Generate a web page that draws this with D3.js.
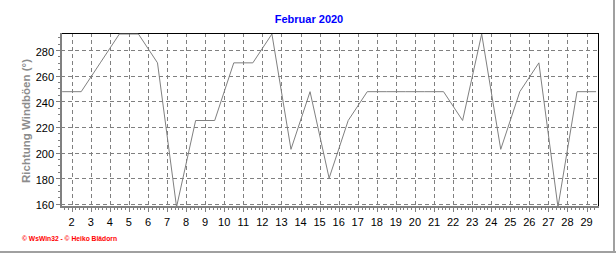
<!DOCTYPE html>
<html>
<head>
<meta charset="utf-8">
<script src="https://cdn.jsdelivr.net/npm/d3@7"></script>
<style>
  body { margin: 0; background: #fff; }
  svg { display: block; font-family: "Liberation Sans", Arial, sans-serif; }
</style>
</head>
<body>
<div id="chart"></div>
<script>
// Windrichtung der Böen, Tageswerte Februar 2020 (Punkte jeweils zur Tagesmitte)
const days = [1.5, 2.5, 3.5, 4.5, 5.5, 6.5, 7.5, 8.5, 9.5, 10.5, 11.5, 12.5, 13.5, 14.5, 15.5,
              16.5, 17.5, 18.5, 19.5, 20.5, 21.5, 22.5, 23.5, 24.5, 25.5, 26.5, 27.5, 28.5, 29.5]
const direction = [247.5, 247.5, 270, 292.5, 292.5, 270, 157.5, 225, 225, 270, 270, 292.5, 202.5, 247.5, 180,
                   225, 247.5, 247.5, 247.5, 247.5, 247.5, 225, 292.5, 202.5, 247.5, 270, 157.5, 247.5, 247.5]
const xTicks = d3.range(2, 30)
const yTicks = [160, 180, 200, 220, 240, 260, 280]
const title = "Februar 2020"
const yLabel = "Richtung Windböen  (°)"
const credit = "© WsWin32 - © Heiko Blädorn"

const W = 616, H = 253
const plot = {left: 61, right: 598, top: 33, bottom: 207}

const svg = d3.select("#chart").append("svg")
    .attr("width", W)
    .attr("height", H)

const x = d3.scaleLinear().domain([1.44, 29.6]).range([plot.left, plot.right])
const y = d3.scaleLinear().domain([157.5, 293.3]).range([plot.bottom, plot.top])

// outer frame (right + bottom only)
svg.append("line").attr("x1", 614).attr("x2", 614).attr("y1", 0).attr("y2", H)
    .attr("stroke", "#a0a0a0").attr("stroke-width", 2)
svg.append("line").attr("x1", 0).attr("x2", W).attr("y1", 252).attr("y2", 252)
    .attr("stroke", "#a0a0a0").attr("stroke-width", 2)

// grid
const grid = svg.append("g")
    .attr("stroke", "#808080")
    .attr("stroke-dasharray", "4,3")
    .attr("shape-rendering", "crispEdges")
grid.selectAll(".gx").data(xTicks).enter().append("line")
    .attr("x1", d => Math.round(x(d)) + 0.5).attr("x2", d => Math.round(x(d)) + 0.5)
    .attr("y1", plot.top).attr("y2", plot.bottom)
grid.selectAll(".gy").data(yTicks).enter().append("line")
    .attr("x1", plot.left).attr("x2", plot.right)
    .attr("y1", d => Math.round(y(d)) + 0.5).attr("y2", d => Math.round(y(d)) + 0.5)

// top + right border
svg.append("path")
    .attr("d", `M${plot.left},${plot.top + 0.5}H${plot.right + 0.5}V${plot.bottom}`)
    .attr("fill", "none").attr("stroke", "#000").attr("shape-rendering", "crispEdges")

// data line
const line = d3.line().x((d, i) => x(days[i])).y(d => y(d))
svg.append("path")
    .datum(direction)
    .attr("d", line)
    .attr("fill", "none")
    .attr("stroke", "#808080")
    .attr("stroke-width", 1)

// axes
const ax = svg.append("g").attr("stroke", "#808080").attr("shape-rendering", "crispEdges")
ax.append("line").attr("x1", plot.left).attr("x2", plot.left).attr("y1", plot.top).attr("y2", plot.bottom + 1)
    .attr("stroke-width", 2)
ax.append("line").attr("x1", plot.left - 1).attr("x2", plot.right + 1).attr("y1", plot.bottom).attr("y2", plot.bottom)
    .attr("stroke-width", 2)

// x minor + major ticks
const minorX = d3.range(1.6, 29.6, 0.2)
ax.selectAll(".mx").data(minorX).enter().append("line")
    .attr("x1", d => Math.round(x(d)) + 0.5).attr("x2", d => Math.round(x(d)) + 0.5)
    .attr("y1", plot.bottom + 1).attr("y2", plot.bottom + 3)
ax.selectAll(".tx").data(xTicks).enter().append("line")
    .attr("x1", d => Math.round(x(d)) + 0.5).attr("x2", d => Math.round(x(d)) + 0.5)
    .attr("y1", plot.bottom + 1).attr("y2", plot.bottom + 5)

// y minor + major ticks
const minorY = d3.range(160, 291, 5)
ax.selectAll(".my").data(minorY).enter().append("line")
    .attr("x1", plot.left - 3).attr("x2", plot.left - 1)
    .attr("y1", d => Math.round(y(d)) + 0.5).attr("y2", d => Math.round(y(d)) + 0.5)
ax.selectAll(".ty").data(yTicks).enter().append("line")
    .attr("x1", plot.left - 5).attr("x2", plot.left - 1)
    .attr("y1", d => Math.round(y(d)) + 0.5).attr("y2", d => Math.round(y(d)) + 0.5)

// tick labels
svg.selectAll(".lx").data(xTicks).enter().append("text")
    .attr("x", d => x(d))
    .attr("y", 225.5)
    .attr("text-anchor", "middle")
    .attr("font-size", "11px")
    .attr("fill", "#000")
    .text(d => d)

svg.selectAll(".ly").data(yTicks).enter().append("text")
    .attr("x", 54)
    .attr("y", d => y(d) + 5.5)
    .attr("text-anchor", "end")
    .attr("font-size", "11px")
    .attr("fill", "#000")
    .text(d => d)

// title
svg.append("text")
    .attr("x", 309).attr("y", 22.5)
    .attr("text-anchor", "middle")
    .attr("font-size", "11px")
    .attr("font-weight", "bold")
    .attr("fill", "#0000ff")
    .text(title)

// y label
svg.append("text")
    .attr("transform", "translate(30,121) rotate(-90)")
    .attr("text-anchor", "middle")
    .attr("font-size", "11.5px")
    .attr("font-weight", "bold")
    .attr("fill", "#8c8c8c")
    .attr("textLength", 124)
    .attr("lengthAdjust", "spacingAndGlyphs")
    .text(yLabel)

// credit
svg.append("text")
    .attr("x", 22).attr("y", 241)
    .attr("font-size", "7px")
    .attr("font-weight", "bold")
    .attr("fill", "#ff0000")
    .attr("textLength", 95)
    .attr("lengthAdjust", "spacingAndGlyphs")
    .text(credit)
</script>
</body>
</html>
